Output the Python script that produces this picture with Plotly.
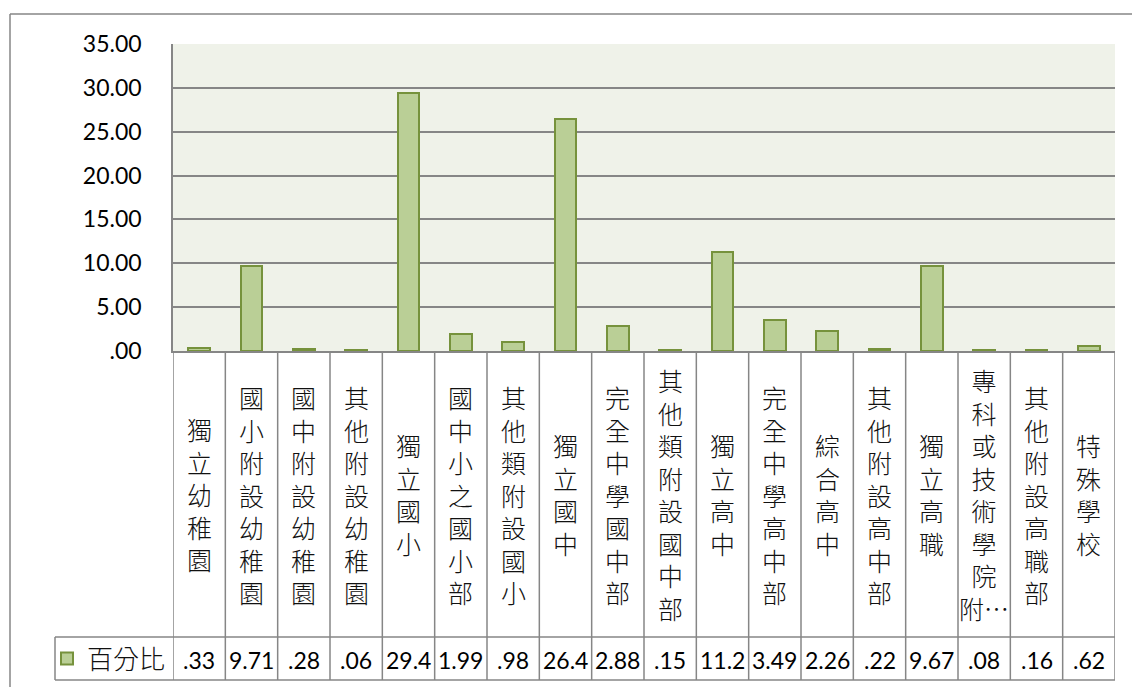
import plotly.graph_objects as go

# ---- data ----
categories = ["獨立幼稚園", "國小附設幼稚園", "國中附設幼稚園", "其他附設幼稚園", "獨立國小",
              "國中小之國小部", "其他類附設國小", "獨立國中", "完全中學國中部", "其他類附設國中部",
              "獨立高中", "完全中學高中部", "綜合高中", "其他附設高中部", "獨立高職",
              "專科或技術學院附…", "其他附設高職部", "特殊學校"]
values = [0.33, 9.71, 0.28, 0.06, 29.44, 1.99, 0.98, 26.44, 2.88, 0.15,
          11.24, 3.49, 2.26, 0.22, 9.67, 0.08, 0.16, 0.62]
value_labels = [".33", "9.71", ".28", ".06", "29.4", "1.99", ".98", "26.4", "2.88", ".15",
                "11.2", "3.49", "2.26", ".22", "9.67", ".08", ".16", ".62"]
series_name = "百分比"
y_tickvals = [0, 5, 10, 15, 20, 25, 30, 35]
y_ticktext = [".00", "5.00", "10.00", "15.00", "20.00", "25.00", "30.00", "35.00"]

# ---- layout constants (pixels) ----
W, H = 1132, 687
PX_L, PX_R = 173, 1115
PY_T, PY_B = 44, 351
ROW_VAL_T, TABLE_B = 637, 680
LEG_L = 55
GRID = "#868686"
CJK = "Noto Sans CJK TC"
NUM = "Lato, 'Noto Sans CJK TC'"


def px(x):
    return x / W


def py(y):
    return 1 - y / H


def vertical(label):
    chars = []
    for ch in label:
        if ch == "…" and chars:
            chars[-1] += ch
        else:
            chars.append(ch)
    return "<br>".join(chars)


n = len(categories)
xs = list(range(n))

fig = go.Figure()
fig.add_trace(go.Bar(
    x=xs, y=values, name=series_name, width=0.42,
    marker=dict(color="#BACF96", line=dict(color="#76923C", width=2)),
    showlegend=True,
))

shapes = []
line_style = dict(color=GRID, width=1.5)
# outer chart border
shapes.append(dict(type="line", xref="paper", yref="paper", x0=px(10), x1=px(W + 5),
                   y0=py(14), y1=py(14), line=line_style))
shapes.append(dict(type="line", xref="paper", yref="paper", x0=px(10), x1=px(10),
                   y0=py(14), y1=py(H + 5), line=line_style))
# data table: vertical separators
for i in range(n + 1):
    shapes.append(dict(type="line", xref="x", yref="paper", x0=i - 0.5, x1=i - 0.5,
                       y0=py(TABLE_B), y1=py(PY_B), line=line_style))
# table horizontal lines
shapes.append(dict(type="line", xref="paper", yref="paper", x0=px(LEG_L), x1=px(PX_R),
                   y0=py(ROW_VAL_T), y1=py(ROW_VAL_T), line=line_style))
shapes.append(dict(type="line", xref="paper", yref="paper", x0=px(LEG_L), x1=px(PX_R),
                   y0=py(TABLE_B), y1=py(TABLE_B), line=line_style))
shapes.append(dict(type="line", xref="paper", yref="paper", x0=px(LEG_L), x1=px(LEG_L),
                   y0=py(TABLE_B), y1=py(ROW_VAL_T), line=line_style))

annotations = []
for i, (c, lab) in enumerate(zip(categories, value_labels)):
    annotations.append(dict(x=i, xref="x", y=py((PY_B + ROW_VAL_T) / 2), yref="paper",
                            text=vertical(c), showarrow=False, xanchor="center",
                            yanchor="middle", align="center",
                            font=dict(family=CJK, size=25, color="#111", weight=300)))
    annotations.append(dict(x=i, xref="x", y=py((ROW_VAL_T + TABLE_B) / 2 + 1), yref="paper",
                            text=lab, showarrow=False, xanchor="center", yanchor="middle",
                            font=dict(family=NUM, size=23, color="#000")))

fig.update_layout(
    width=W, height=H, autosize=False,
    margin=dict(l=0, r=0, t=0, b=0, autoexpand=False),
    paper_bgcolor="white", plot_bgcolor="#EFF2E9",
    bargap=0,
    xaxis=dict(domain=[px(PX_L), px(PX_R)], range=[-0.5, n - 0.5], showticklabels=False,
               showgrid=False, zeroline=False, showline=True, linecolor=GRID, linewidth=1.5,
               ticks="", fixedrange=True, automargin=False),
    yaxis=dict(domain=[py(PY_B), py(PY_T)], range=[0, 35], tickvals=y_tickvals,
               ticktext=y_ticktext, showgrid=True, gridcolor=GRID, gridwidth=1.5,
               zeroline=False, showline=True, linecolor=GRID, linewidth=1.5, ticks="",
               ticklabelstandoff=25, automargin=False, fixedrange=True,
               tickfont=dict(family=NUM, size=23, color="#000")),
    legend=dict(xref="container", yref="container", x=px(47), xanchor="left",
                y=py((ROW_VAL_T + TABLE_B) / 2), yanchor="middle",
                bgcolor="rgba(0,0,0,0)", borderwidth=0,
                font=dict(family=CJK, size=26, color="#111", weight=300),
                itemclick=False, itemdoubleclick=False),
    shapes=shapes,
    annotations=annotations,
)

fig.write_html(
    "out.html",
    config={"displayModeBar": False},
    post_script="document.body.style.margin='0';document.body.style.overflow='hidden';",
)
